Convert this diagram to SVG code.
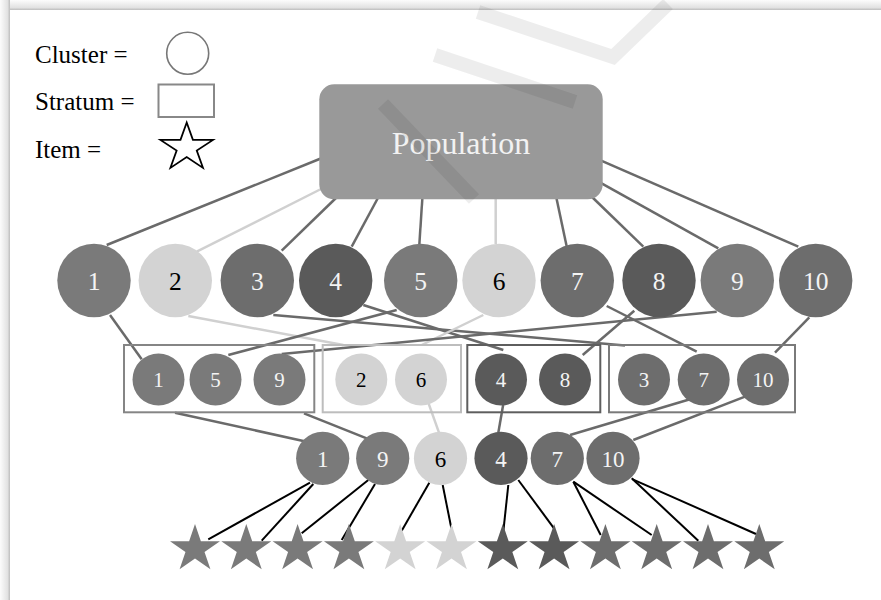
<svg xmlns="http://www.w3.org/2000/svg" xmlns:xlink="http://www.w3.org/1999/xlink" width="881" height="600" viewBox="0 0 881 600">
  <defs>
    <linearGradient id="edgeTop" x1="0" y1="0" x2="0" y2="1">
      <stop offset="0" stop-color="#fcfcfc"/>
      <stop offset="0.75" stop-color="#e2e2e2"/>
      <stop offset="1" stop-color="#bdbdbd"/>
    </linearGradient>
    <linearGradient id="edgeLeft" x1="0" y1="0" x2="1" y2="0">
      <stop offset="0" stop-color="#fcfcfc"/>
      <stop offset="0.75" stop-color="#e2e2e2"/>
      <stop offset="1" stop-color="#bdbdbd"/>
    </linearGradient>
    <!-- five-pointed star centred on the origin -->
    <path id="star" d="M0,-25 L5.89,-7.73 L24.97,-7.73 L9.53,2.95 L15.42,20.23 L0,9.55 L-15.42,20.23 L-9.53,2.95 L-24.97,-7.73 L-5.89,-7.73 Z"/>
    <style>
      text { font-family: "Liberation Serif", "Times New Roman", serif; }
      .legend { font-size: 25px; fill: #000; }
      .lk { stroke: #6a6a6a; stroke-width: 2.5; fill: none; }
      .ll { stroke: #d0d0d0; stroke-width: 2.5; fill: none; }
      .lb { stroke: #000; stroke-width: 2; fill: none; }
      .sA { fill: #7a7a7a; }
      .sB { fill: #d3d3d3; }
      .sC { fill: #5a5a5a; }
      .sD { fill: #6d6d6d; }
      .numW { fill: #f4f4f4; text-anchor: middle; }
      .numK { fill: #000; text-anchor: middle; }
      .big { font-size: 25.5px; }
      .mid { font-size: 21px; }
      .sml { font-size: 23px; }
      .box { fill: none; stroke-width: 2; }
    </style>
  </defs>

  <!-- page card with a soft edge -->
  <rect x="0" y="0" width="881" height="10" fill="url(#edgeTop)"/>
  <rect x="0" y="0" width="10" height="600" fill="url(#edgeLeft)"/>
  <rect x="10" y="10" width="871" height="590" fill="#ffffff"/>

  <!-- legend -->
  <g id="legend">
    <text class="legend" x="35" y="63">Cluster =</text>
    <circle cx="187.7" cy="53.3" r="21" fill="#fff" stroke="#777" stroke-width="1.6"/>
    <text class="legend" x="35" y="110">Stratum =</text>
    <rect x="158.5" y="84.5" width="55.5" height="32.5" fill="#fff" stroke="#888" stroke-width="2"/>
    <text class="legend" x="35" y="158">Item =</text>
    <use xlink:href="#star" transform="translate(186.7,147.6) scale(1.055,1)" fill="#fff" stroke="#000" stroke-width="1.7"/>
  </g>

  <!-- connectors -->
  <g id="connectors">
    <!-- population to clusters -->
    <line class="lk" x1="322" y1="158" x2="106.7" y2="245"/>
    <line class="ll" x1="323" y1="188" x2="196.7" y2="251.7"/>
    <line class="lk" x1="337" y1="197" x2="281.7" y2="250.7"/>
    <line class="lk" x1="379" y1="196" x2="351.7" y2="246.7"/>
    <line class="lk" x1="422.5" y1="196" x2="419.3" y2="245"/>
    <line class="ll" x1="495.7" y1="196" x2="495.7" y2="244"/>
    <line class="lk" x1="556" y1="196" x2="566.7" y2="246.5"/>
    <line class="lk" x1="591" y1="196" x2="643.3" y2="246.7"/>
    <line class="lk" x1="598" y1="181.3" x2="718.3" y2="248.3"/>
    <line class="lk" x1="600" y1="160.2" x2="798.3" y2="246.7"/>
    <!-- clusters to strata -->
    <line class="lk" x1="110" y1="315" x2="141.7" y2="359.3"/>
    <line class="ll" x1="188.3" y1="316" x2="343.3" y2="345"/>
    <line class="lk" x1="273.3" y1="315" x2="625" y2="345.5"/>
    <line class="lk" x1="363.3" y1="305" x2="503.3" y2="350"/>
    <line class="lk" x1="396.7" y1="310" x2="228.3" y2="355"/>
    <line class="ll" x1="483.3" y1="315" x2="421.7" y2="345"/>
    <line class="lk" x1="606.7" y1="306" x2="696.7" y2="351.7"/>
    <line class="lk" x1="634.3" y1="310.7" x2="582.7" y2="355"/>
    <line class="lk" x1="716.7" y1="311.7" x2="281.7" y2="354"/>
    <line class="lk" x1="809.3" y1="317.3" x2="775" y2="352.7"/>
    <!-- strata to selected clusters -->
    <line class="lk" x1="175" y1="412.7" x2="306.7" y2="441.7"/>
    <line class="lk" x1="304" y1="413.3" x2="366.7" y2="438.3"/>
    <line class="ll" x1="428.3" y1="402.7" x2="439" y2="432.7"/>
    <line class="lk" x1="503.3" y1="404" x2="498.3" y2="432.7"/>
    <line class="lk" x1="690" y1="399.3" x2="570" y2="435"/>
    <line class="lk" x1="745" y1="396.7" x2="633.3" y2="440"/>
    <!-- selected clusters to items -->
    <line class="lb" x1="310" y1="482.7" x2="208.3" y2="539.3"/>
    <line class="lb" x1="313.3" y1="484" x2="261.7" y2="540.7"/>
    <line class="lb" x1="368.3" y1="480" x2="301.7" y2="533.3"/>
    <line class="lb" x1="375" y1="484" x2="341.7" y2="540"/>
    <line class="lb" x1="429.3" y1="482.7" x2="401.7" y2="530.7"/>
    <line class="lb" x1="442.7" y1="485" x2="451.7" y2="530"/>
    <line class="lb" x1="508.3" y1="485" x2="503.3" y2="531.7"/>
    <line class="lb" x1="518.3" y1="480" x2="554" y2="528.3"/>
    <line class="lb" x1="573.3" y1="481.7" x2="600.7" y2="535"/>
    <line class="lb" x1="573.3" y1="481.7" x2="651.7" y2="535"/>
    <line class="lb" x1="631.7" y1="478.3" x2="698.3" y2="540.7"/>
    <line class="lb" x1="632.7" y1="479.3" x2="756" y2="534"/>
  </g>

  <!-- population -->
  <g id="population">
    <rect x="319.3" y="84.3" width="283.4" height="115" rx="15" fill="#999999"/>
    <text x="461" y="154" font-size="32" fill="#f2f2f2" text-anchor="middle">Population</text>
  </g>

  <!-- clusters -->
  <g id="cluster-1"><circle class="sA" cx="94" cy="280.5" r="36.7"/><text class="numW big" x="94" y="290.3">1</text></g>
  <g id="cluster-2"><circle class="sB" cx="175.3" cy="280.5" r="36.7"/><text class="numK big" x="175.3" y="290.3">2</text></g>
  <g id="cluster-3"><circle class="sD" cx="257.3" cy="280.5" r="36.7"/><text class="numW big" x="257.3" y="290.3">3</text></g>
  <g id="cluster-4"><circle class="sC" cx="335.7" cy="280.5" r="36.7"/><text class="numW big" x="335.7" y="290.3">4</text></g>
  <g id="cluster-5"><circle class="sA" cx="420.7" cy="280.5" r="36.7"/><text class="numW big" x="420.7" y="290.3">5</text></g>
  <g id="cluster-6"><circle class="sB" cx="499" cy="280.5" r="36.7"/><text class="numK big" x="499" y="290.3">6</text></g>
  <g id="cluster-7"><circle class="sD" cx="577.3" cy="280.5" r="36.7"/><text class="numW big" x="577.3" y="290.3">7</text></g>
  <g id="cluster-8"><circle class="sC" cx="659" cy="280.5" r="36.7"/><text class="numW big" x="659" y="290.3">8</text></g>
  <g id="cluster-9"><circle class="sA" cx="737.3" cy="280.5" r="36.7"/><text class="numW big" x="737.3" y="290.3">9</text></g>
  <g id="cluster-10"><circle class="sD" cx="815.7" cy="280.5" r="36.7"/><text class="numW big" x="815.7" y="290.3">10</text></g>

  <!-- strata -->
  <g id="stratum-1">
    <rect class="box" x="124" y="345" width="190.3" height="67.3" stroke="#858585"/>
    <circle class="sA" cx="158.5" cy="379.5" r="26"/><text class="numW mid" x="158.5" y="386.7">1</text>
    <circle class="sA" cx="215.5" cy="379.5" r="26"/><text class="numW mid" x="215.5" y="386.7">5</text>
    <circle class="sA" cx="279.5" cy="379.5" r="26"/><text class="numW mid" x="279.5" y="386.7">9</text>
  </g>
  <g id="stratum-2">
    <rect class="box" x="322.7" y="345" width="138.3" height="67.3" stroke="#bdbdbd"/>
    <circle class="sB" cx="361.3" cy="379.5" r="26"/><text class="numK mid" x="361.3" y="386.7">2</text>
    <circle class="sB" cx="421" cy="379.5" r="26"/><text class="numK mid" x="421" y="386.7">6</text>
  </g>
  <g id="stratum-3">
    <rect class="box" x="467.3" y="345" width="133" height="67.3" stroke="#5e5e5e"/>
    <circle class="sC" cx="501" cy="379.5" r="26"/><text class="numW mid" x="501" y="386.7">4</text>
    <circle class="sC" cx="565" cy="379.5" r="26"/><text class="numW mid" x="565" y="386.7">8</text>
  </g>
  <g id="stratum-4">
    <rect class="box" x="609" y="345" width="186" height="67.3" stroke="#7a7a7a"/>
    <circle class="sD" cx="644" cy="379.5" r="26"/><text class="numW mid" x="644" y="386.7">3</text>
    <circle class="sD" cx="703.7" cy="379.5" r="26"/><text class="numW mid" x="703.7" y="386.7">7</text>
    <circle class="sD" cx="763" cy="379.5" r="26"/><text class="numW mid" x="763" y="386.7">10</text>
  </g>

  <!-- selected clusters -->
  <g id="pick-1"><circle class="sA" cx="322.7" cy="458.3" r="26.6"/><text class="numW sml" x="322.7" y="467">1</text></g>
  <g id="pick-9"><circle class="sA" cx="382.7" cy="458.3" r="26.6"/><text class="numW sml" x="382.7" y="467">9</text></g>
  <g id="pick-6"><circle class="sB" cx="440.5" cy="458.3" r="26.6"/><text class="numK sml" x="440.5" y="467">6</text></g>
  <g id="pick-4"><circle class="sC" cx="501" cy="458.3" r="26.6"/><text class="numW sml" x="501" y="467">4</text></g>
  <g id="pick-7"><circle class="sD" cx="557.3" cy="458.3" r="26.6"/><text class="numW sml" x="557.3" y="467">7</text></g>
  <g id="pick-10"><circle class="sD" cx="613" cy="458.3" r="26.6"/><text class="numW sml" x="613" y="467">10</text></g>

  <!-- items -->
  <g id="items">
    <g id="item-1"><use xlink:href="#star" class="sA" x="195" y="549"/></g>
    <g id="item-2"><use xlink:href="#star" class="sA" x="246.3" y="549"/></g>
    <g id="item-3"><use xlink:href="#star" class="sA" x="297.6" y="549"/></g>
    <g id="item-4"><use xlink:href="#star" class="sA" x="348.9" y="549"/></g>
    <g id="item-5"><use xlink:href="#star" class="sB" x="400.2" y="549"/></g>
    <g id="item-6"><use xlink:href="#star" class="sB" x="451.5" y="549"/></g>
    <g id="item-7"><use xlink:href="#star" class="sC" x="502.8" y="549"/></g>
    <g id="item-8"><use xlink:href="#star" class="sC" x="554.1" y="549"/></g>
    <g id="item-9"><use xlink:href="#star" class="sD" x="605.4" y="549"/></g>
    <g id="item-10"><use xlink:href="#star" class="sD" x="656.7" y="549"/></g>
    <g id="item-11"><use xlink:href="#star" class="sD" x="708" y="549"/></g>
    <g id="item-12"><use xlink:href="#star" class="sD" x="759.3" y="549"/></g>
  </g>

  <!-- faint diagonal watermark strokes -->
  <g id="watermark" fill="none" stroke="#000" stroke-opacity="0.07" stroke-width="14">
    <line x1="383" y1="104" x2="474" y2="199"/>
    <line x1="435" y1="55" x2="575" y2="102"/>
    <polyline points="478,12 613,57 668,4"/>
  </g>
</svg>
